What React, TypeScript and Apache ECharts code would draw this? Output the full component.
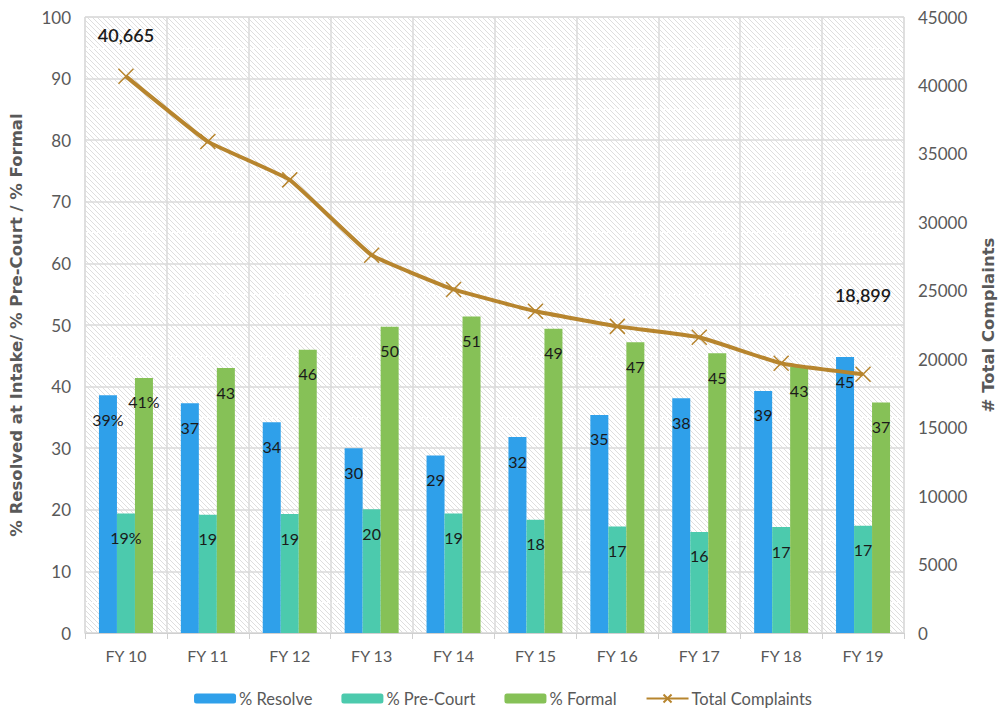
import React, { useEffect, useRef } from "react";
import * as echarts from "echarts";

const categories = ["FY 10", "FY 11", "FY 12", "FY 13", "FY 14", "FY 15", "FY 16", "FY 17", "FY 18", "FY 19"];
const resolveValues = [38.6, 37.3, 34.2, 30.0, 28.8, 31.8, 35.4, 38.1, 39.3, 44.8];
const preCourtValues = [19.4, 19.2, 19.3, 20.1, 19.4, 18.4, 17.3, 16.4, 17.2, 17.4];
const formalValues = [41.4, 43.0, 46.0, 49.7, 51.4, 49.4, 47.2, 45.4, 43.2, 37.4];
const totalComplaints = [40665, 35900, 33100, 27600, 25100, 23500, 22400, 21600, 19700, 18899];
const labelledTotals = [0, 9];

const FONT = "Lato, 'Noto Sans', sans-serif";
const NAME_FONT = "'DejaVu Sans', sans-serif";
const GRAY = "#595959";

function makeHatch(): HTMLCanvasElement {
  const c = document.createElement("canvas");
  c.width = 5;
  c.height = 5;
  const ctx = c.getContext("2d")!;
  ctx.fillStyle = "#ffffff";
  ctx.fillRect(0, 0, 5, 5);
  ctx.strokeStyle = "#dedede";
  ctx.lineWidth = 1;
  ctx.beginPath();
  ctx.moveTo(-1, -1);
  ctx.lineTo(6, 6);
  ctx.moveTo(-1, 4);
  ctx.lineTo(1, 6);
  ctx.moveTo(4, -1);
  ctx.lineTo(6, 1);
  ctx.stroke();
  return c;
}

export default function App() {
  const ref = useRef<HTMLDivElement>(null);
  useEffect(() => {
    if (!ref.current) return;
    const chart = echarts.init(ref.current, null, { renderer: "svg" });
    const hatch = makeHatch();
    const barLabel = {
      show: true,
      position: "insideTop" as const,
      distance: 16,
      color: "#1a1a1a",
      fontSize: 16,
      fontFamily: FONT,
      formatter: (p: any) => (p.dataIndex === 0 ? Math.round(p.value) + "%" : String(Math.round(p.value))),
    };
    const lineData = totalComplaints.map((v, i) => {
      if (!labelledTotals.includes(i)) return v;
      return {
        value: v,
        label: {
          show: true,
          position: "top",
          distance: i === 0 ? 22 : 60,
          formatter: (p: any) => Number(p.value).toLocaleString("en-US"),
          fontSize: 18,
          fontWeight: 600,
          color: "#1a1a1a",
          fontFamily: FONT,
        },
      };
    });
    chart.setOption({
      animation: false,
      backgroundColor: "#ffffff",
      grid: {
        left: 83,
        right: 102,
        top: 17,
        bottom: 81,
        show: true,
        backgroundColor: { image: hatch, repeat: "repeat", imageWidth: 5, imageHeight: 5 },
        borderColor: "#dcdcdc",
        borderWidth: 1,
      },
      legend: {
        bottom: 2,
        left: "center",
        itemWidth: 42,
        itemHeight: 10,
        itemGap: 29,
        textStyle: { color: GRAY, fontSize: 16.5, fontFamily: FONT, padding: [0, 0, 0, -2] },
        data: ["% Resolve", "% Pre-Court", "% Formal", "Total Complaints"],
      },
      xAxis: {
        type: "category",
        data: categories,
        axisLine: { lineStyle: { color: "#d0d0d0", width: 1 } },
        axisTick: { show: true, length: 6, lineStyle: { color: "#d0d0d0" } },
        axisLabel: { color: GRAY, fontSize: 16, fontFamily: FONT, margin: 14 },
        splitLine: { show: true, lineStyle: { color: "#dadada", width: 1.5 } },
      },
      yAxis: [
        {
          type: "value",
          min: 0,
          max: 100,
          interval: 10,
          name: "% Resolved at Intake/ % Pre-Court / % Formal",
          nameLocation: "middle",
          nameRotate: 90,
          nameGap: 60,
          nameTextStyle: { color: GRAY, fontSize: 16.5, fontWeight: "bold", fontFamily: NAME_FONT },
          axisLine: { show: false },
          axisTick: { show: false },
          axisLabel: { color: GRAY, fontSize: 17, fontFamily: FONT, margin: 14 },
          splitLine: { show: true, lineStyle: { color: "#dadada", width: 1.5 } },
          minorTick: { show: false, splitNumber: 2 },
          minorSplitLine: { show: true, lineStyle: { color: "#ffffff", type: "dashed", width: 1 } },
        },
        {
          type: "value",
          min: 0,
          max: 45000,
          interval: 5000,
          name: "# Total Complaints",
          nameLocation: "middle",
          nameRotate: 90,
          nameGap: 76,
          nameTextStyle: { color: GRAY, fontSize: 16.5, fontWeight: "bold", fontFamily: NAME_FONT },
          axisLine: { show: false },
          axisTick: { show: false },
          axisLabel: { color: GRAY, fontSize: 17, fontFamily: FONT, margin: 14, formatter: (v: number) => String(v) },
          splitLine: { show: false },
        },
      ],
      series: [
        {
          name: "% Resolve",
          type: "bar",
          data: resolveValues,
          barWidth: 18,
          barGap: "0%",
          itemStyle: { color: "#2fa0ea" },
          label: barLabel,
        },
        {
          name: "% Pre-Court",
          type: "bar",
          data: preCourtValues,
          barWidth: 18,
          barGap: "0%",
          itemStyle: { color: "#4ccaad" },
          label: barLabel,
        },
        {
          name: "% Formal",
          type: "bar",
          data: formalValues,
          barWidth: 18,
          barGap: "0%",
          itemStyle: { color: "#86c157" },
          label: barLabel,
        },
        {
          name: "Total Complaints",
          type: "line",
          yAxisIndex: 1,
          data: lineData,
          smooth: 0.1,
          symbol: "path://M0,0L10,10M10,0L0,10",
          symbolSize: 15,
          showAllSymbol: true,
          lineStyle: { color: "#b7852e", width: 4 },
          itemStyle: { color: "none", borderColor: "#b7852e", borderWidth: 1.5 },
          z: 5,
        },
      ],
    });
    return () => chart.dispose();
  }, []);
  return (
    <div
      ref={ref}
      style={{ position: "fixed", left: 0, top: 0, width: 1006, height: 714 }}
    />
  );
}
